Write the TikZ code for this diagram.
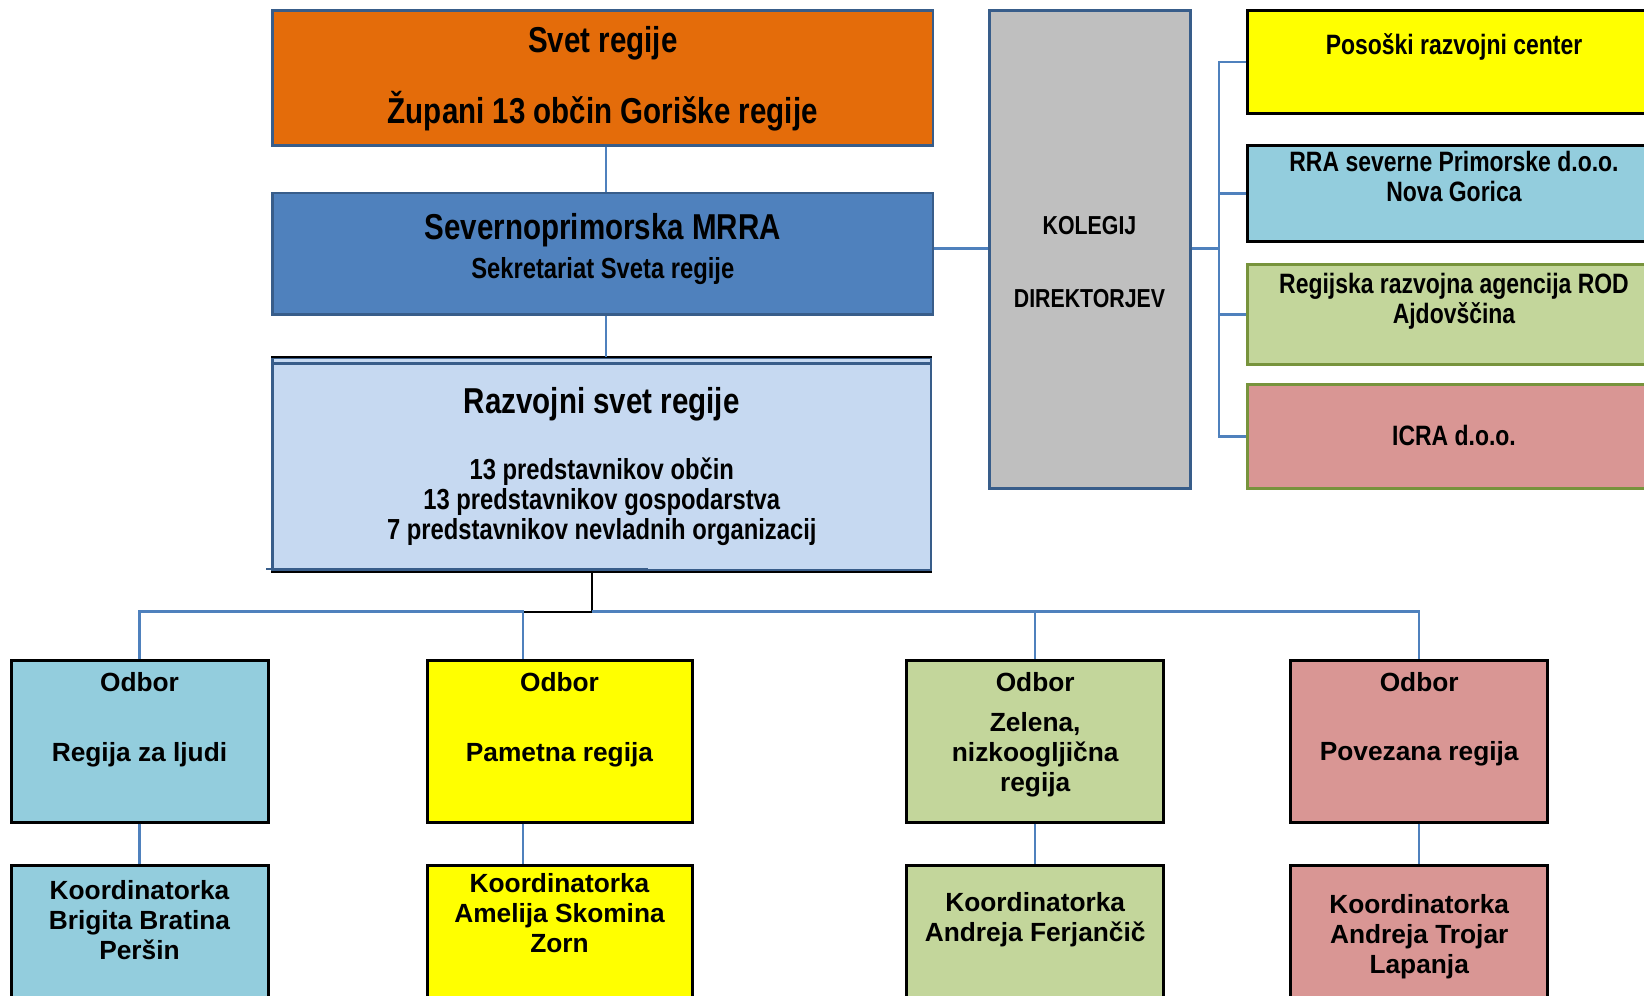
\documentclass[tikz,border=0pt]{standalone}
\usepackage{fontspec}
\setmainfont{Liberation Sans}
\newfontfamily\narrowfont[FakeStretch=0.82]{Liberation Sans}
\usetikzlibrary{calc}

\definecolor{conn}{HTML}{4F81BD}
\definecolor{frame}{HTML}{385D8A}
\definecolor{svet}{HTML}{E46C0A}
\definecolor{mrra}{HTML}{4F81BD}
\definecolor{razvoj}{HTML}{C6D9F1}
\definecolor{kolegij}{HTML}{BFBFBF}
\definecolor{rumena}{HTML}{FFFF00}
\definecolor{modra}{HTML}{93CDDD}
\definecolor{zelena}{HTML}{C3D69B}
\definecolor{rdeca}{HTML}{D99694}
\definecolor{zrob}{HTML}{77933C}

\begin{document}
\begin{tikzpicture}[x=1pt,y=-1pt,
  box/.style={anchor=north,inner sep=0pt,align=center},
  hd/.style 2 args={text height=#1pt,text depth=#2pt},
  top/.style={box,draw=frame,line width=2.7pt},
  agencija/.style={box,line width=3pt,minimum width=412.4pt,
    font=\narrowfont\bfseries\fontsize{28}{30}\selectfont},
  odbor/.style={box,draw=black,line width=3pt,
    font=\bfseries\fontsize{26.3}{30}\selectfont},
  line/.style={draw=conn,line width=2.5pt}]
\useasboundingbox (0,0) rectangle (1644,996);

\path % we place the nodes once
  node[top,fill=svet,minimum width=660.4pt,hd={112.3}{22.3},
    font=\narrowfont\bfseries\fontsize{36}{71}\selectfont] (1) at (602.8,9.4)
    {Svet regije\\Župani 13 občin Goriške regije}
  node[top,fill=mrra,minimum width=660.4pt,hd={85.8}{36.1},
    font=\narrowfont\bfseries\fontsize{36}{39}\selectfont] (2) at (602.8,191.5)
    {Severnoprimorska MRRA\\{\fontsize{29}{39}\selectfont Sekretariat Sveta regije}}
  node[top,fill=razvoj,minimum width=658.4pt,hd={181.8}{30.7},
    font=\narrowfont\bfseries\fontsize{29}{30}\selectfont] (3) at (601.8,356.5)
    {{\fontsize{36}{30}\selectfont Razvojni svet regije}\\[36.6pt]
     13 predstavnikov občin\\13 predstavnikov gospodarstva\\
     7 predstavnikov nevladnih organizacij}
  node[top,line width=3pt,fill=kolegij,minimum width=201pt,hd={296.6}{180.5},
    font=\narrowfont\bfseries\fontsize{26}{73.3}\selectfont] (4) at (1089.5,9.4)
    {KOLEGIJ\\DIREKTORJEV};

% razvojne agencije
\path
  node[agencija,draw=black,fill=rumena,hd={43.9}{58.4}] (5) at (1454,9.4)
    {Posoški razvojni center}
  node[agencija,draw=black,fill=modra,hd={56}{40}] (6) at (1454,144)
    {RRA severne Primorske d.o.o.\\Nova Gorica}
  node[agencija,draw=zrob,fill=zelena,hd={58.7}{41.3}] (7) at (1454,263)
    {Regijska razvojna agencija ROD\\Ajdovščina}
  node[agencija,draw=zrob,fill=rdeca,hd={61}{42.7}] (8) at (1454,383)
    {ICRA d.o.o.};

% odbori
\path
  node[odbor,fill=modra,minimum width=257pt,hd={100.7}{60.7}] (9) at (139.5,659.3)
    {Odbor\\[40pt]Regija za ljudi}
  node[odbor,fill=rumena,minimum width=265pt,hd={100.7}{60.7}] (10) at (559.5,659.3)
    {Odbor\\[40pt]Pametna regija}
  node[odbor,fill=zelena,minimum width=256.8pt,hd={130.7}{30.7}] (11) at (1035.2,659.3)
    {Odbor\\[10pt]Zelena,\\nizkoogljična\\regija}
  node[odbor,fill=rdeca,minimum width=256.8pt,hd={100}{61.4}] (12) at (1419.2,659.3)
    {Odbor\\[39.3pt]Povezana regija}
  node[odbor,fill=modra,minimum width=257pt,hd={94.3}{75.7}] (13) at (139.5,864)
    {Koordinatorka\\Brigita Bratina\\Peršin}
  node[odbor,fill=rumena,minimum width=265pt,hd={87}{83}] (14) at (559.5,864)
    {Koordinatorka\\Amelija Skomina\\Zorn}
  node[odbor,fill=zelena,minimum width=256.8pt,hd={76}{94}] (15) at (1035.2,864)
    {Koordinatorka\\Andreja Ferjančič}
  node[odbor,fill=rdeca,minimum width=256.8pt,hd={107.7}{62.3}] (16) at (1419.2,864)
    {Koordinatorka\\Andreja Trojar\\Lapanja};

% robovi razvojnega sveta
\draw[black,line width=2pt] (3.north west) -- (3.north east);
\draw[frame,line width=2.5pt] ([yshift=-6.8pt]3.north west) -- ([yshift=-6.8pt]3.north east);
\draw[black,line width=2pt] (3.south west) -- (3.south east);
\draw[frame,line width=2.5pt] ([shift={(-5pt,2.6pt)}]3.south west) -- ++(382,0);

% povezave
\coordinate (r) at (1219,248.3);
\coordinate (s) at (591.5,611.7);
\coordinate (k) at (523,611.7);
\coordinate (m) at (605.8,0);
\draw[line] (m |- 1.south) -- (m |- 2.north);
\draw[line] (m |- 2.south) -- (m |- 3.north);
\draw[line] (r -| 2.east) -- (r -| 4.west);
\draw[line] (r -| 4.east) -- (r);
\draw[line] (5.west) -| (r) |- (8.west);
\draw[line] (6.west) -- (6.west -| r);
\draw[line] (7.west) -- (7.west -| r);

\draw[black,line width=2pt] (s |- 3.south) -- (s) -- (k);
\draw[line] (9.north) |- (k) -- (k |- 10.north);
\draw[line] (s) -| (12.north);
\draw[line] (11.north) -- (11.north |- s);
\draw[line] (9) -- (13);
\draw[line] (k |- 10.south) -- (k |- 14.north);
\draw[line] (11) -- (15);
\draw[line] (12) -- (16);
\end{tikzpicture}
\end{document}
